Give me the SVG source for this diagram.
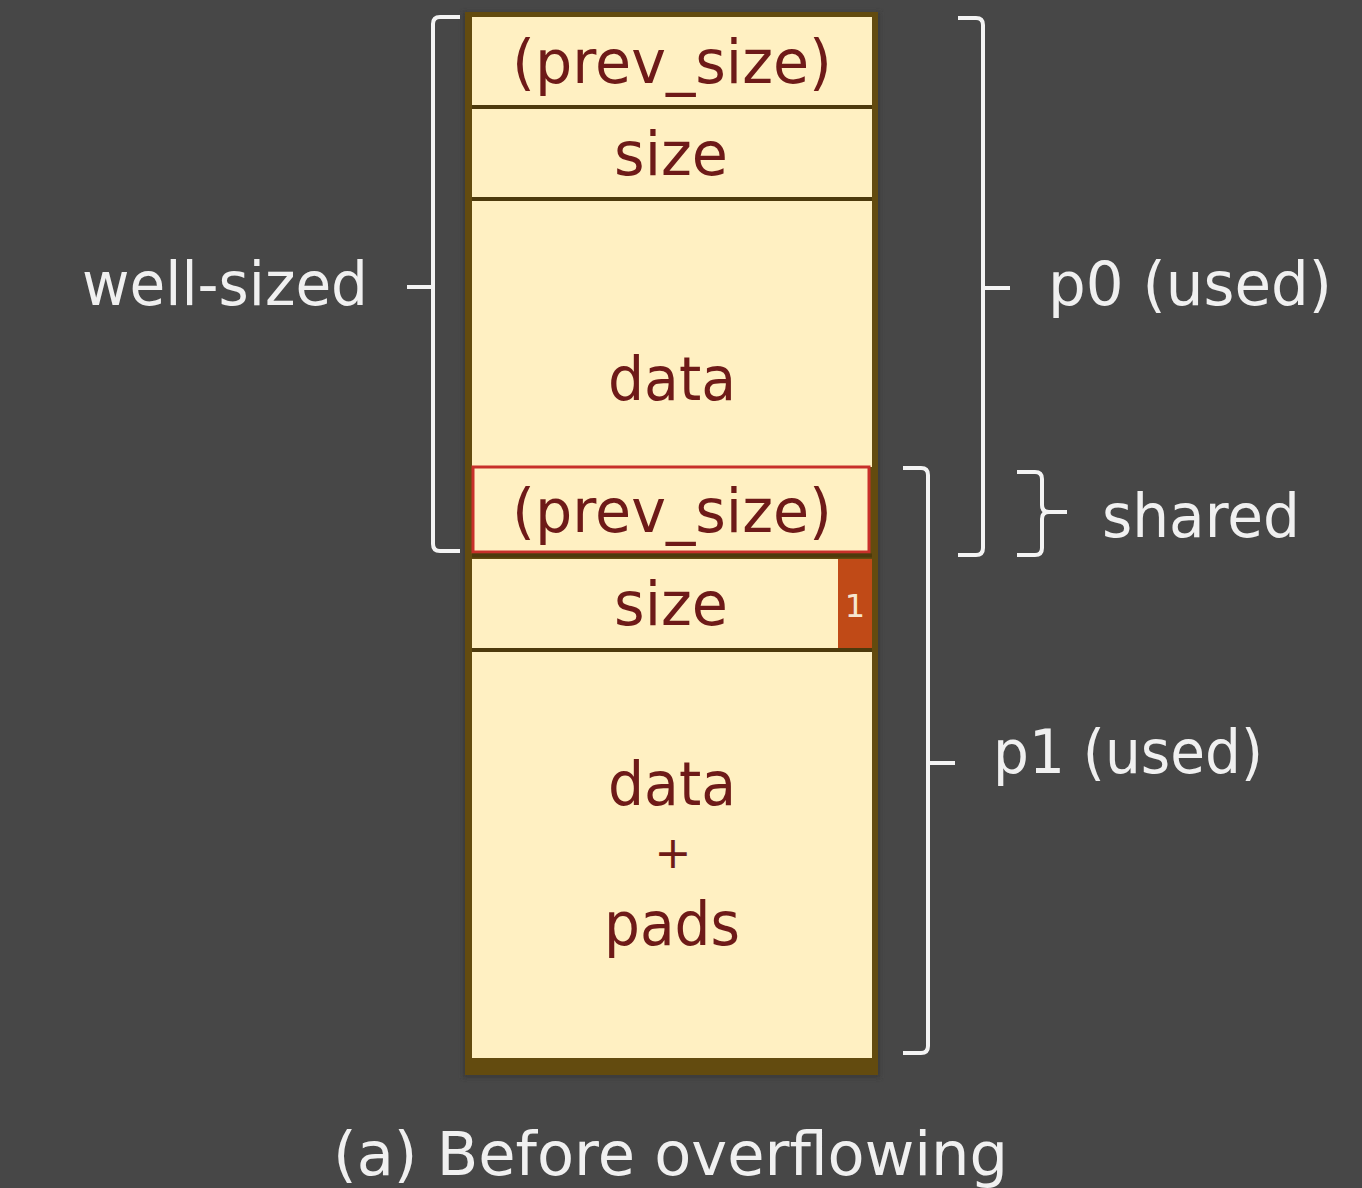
<svg xmlns="http://www.w3.org/2000/svg" width="1362" height="1188" viewBox="0 0 1362 1188">
<defs>
<style>
.cell{fill:#fff0c2;}
.div{stroke:#4d3a0c;stroke-width:4;}
.ct{font-family:"DejaVu Sans",sans-serif;font-size:60px;fill:#6e1a18;text-anchor:middle;}
.lbl{font-family:"DejaVu Sans",sans-serif;font-size:60px;fill:#f0f0f0;}
.br{fill:none;stroke:#f4f4f4;stroke-width:4;stroke-linejoin:round;stroke-linecap:butt;}
</style>
<filter id="sh" x="-5%" y="-5%" width="110%" height="110%">
<feGaussianBlur stdDeviation="2"/>
</filter>
</defs>
<rect width="1362" height="1188" fill="#474747"/>
<g id="chunk">
<rect x="463" y="12" width="417" height="1066" fill="#3a3a3a" filter="url(#sh)"/>
<rect x="465" y="12" width="413" height="1063" fill="#634b0f"/>
</g>
<g id="cell-prev-size-0">
<rect class="cell" x="472" y="17" width="400" height="88"/>
<text class="ct" x="672" y="83" textLength="320" lengthAdjust="spacingAndGlyphs">(prev_size)</text>
</g>
<g id="cell-size-0">
<rect class="cell" x="472" y="109" width="400" height="88"/>
<text class="ct" x="671" y="175" textLength="114" lengthAdjust="spacingAndGlyphs">size</text>
</g>
<g id="cell-data-0">
<rect class="cell" x="472" y="201" width="400" height="266"/>
<text class="ct" x="672" y="400" textLength="128" lengthAdjust="spacingAndGlyphs">data</text>
</g>
<g id="cell-prev-size-1">
<rect x="473" y="467" width="396" height="85" fill="#fff0c2" stroke="#c8302a" stroke-width="3"/>
<text class="ct" x="672" y="532" textLength="320" lengthAdjust="spacingAndGlyphs">(prev_size)</text>
</g>
<g id="cell-size-1">
<rect class="cell" x="472" y="559" width="400" height="89"/>
<rect x="838" y="559" width="34" height="89" fill="#c04a17"/>
<text x="855" y="617" font-family="DejaVu Sans, sans-serif" font-size="32" fill="#f6e6d0" text-anchor="middle">1</text>
<text class="ct" x="671" y="625" textLength="114" lengthAdjust="spacingAndGlyphs">size</text>
</g>
<g id="cell-data-pads">
<rect class="cell" x="472" y="652" width="400" height="406"/>
<text class="ct" x="672" y="805" textLength="128" lengthAdjust="spacingAndGlyphs">data</text>
<text class="ct" x="673" y="868" style="font-size:44px">+</text>
<text class="ct" x="672" y="945" textLength="136" lengthAdjust="spacingAndGlyphs">pads</text>
</g>
<g id="dividers">
<line class="div" x1="472" y1="107" x2="872" y2="107"/>
<line class="div" x1="472" y1="199" x2="872" y2="199"/>
<line class="div" x1="472" y1="555.5" x2="872" y2="555.5"/>
<line class="div" x1="472" y1="650" x2="872" y2="650"/>
</g>
<g id="connectors">
<path class="br" d="M460,17 H440 Q433,17 433,24 V544 Q433,551 440,551 H460"/>
<path class="br" d="M407,287 H433"/>
<path class="br" d="M958,18 H976 Q983,18 983,25 V548 Q983,555 976,555 H958"/>
<path class="br" d="M983,288 H1010"/>
<path class="br" d="M903,468 H921 Q928,468 928,475 V1046 Q928,1053 921,1053 H903"/>
<path class="br" d="M928,763 H955"/>
<path class="br" d="M1017,472 H1035 Q1042,472 1042,479 V505 Q1042,512 1049,512 H1067 M1049,512 Q1042,512 1042,519 V548 Q1042,555 1035,555 H1017"/>
</g>
<g id="label-well-sized">
<text class="lbl" x="82" y="305" textLength="286" lengthAdjust="spacingAndGlyphs">well-sized</text>
</g>
<g id="label-p0">
<text class="lbl" x="1048" y="305" textLength="284" lengthAdjust="spacingAndGlyphs">p0 (used)</text>
</g>
<g id="label-shared">
<text class="lbl" x="1102" y="537" textLength="198" lengthAdjust="spacingAndGlyphs">shared</text>
</g>
<g id="label-p1">
<text class="lbl" x="993" y="773" textLength="270" lengthAdjust="spacingAndGlyphs">p1 (used)</text>
</g>
<g id="caption">
<text class="lbl" x="333" y="1175" textLength="675" lengthAdjust="spacingAndGlyphs">(a) Before overflowing</text>
</g>
</svg>
